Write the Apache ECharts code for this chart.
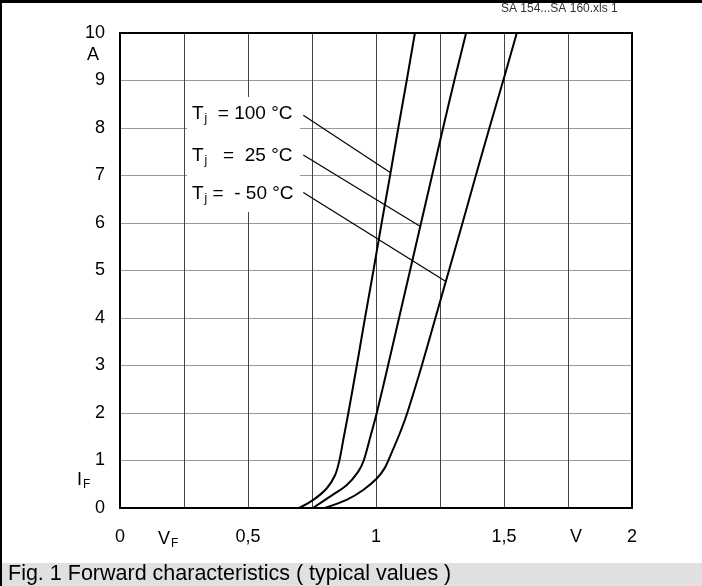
<!DOCTYPE html>
<html>
<head>
<meta charset="utf-8">
<script src="https://cdn.jsdelivr.net/npm/echarts@6/dist/echarts.min.js"></script>
<style>
html,body{margin:0;padding:0;background:#fff;}
#chart{width:702px;height:586px;}
</style>
</head>
<body>
<div id="chart"></div>
<script>
// Forward voltage V_F (V) vs forward current I_F (A)
const curve100 = [[0.70,0],[0.755,0.17],[0.807,0.41],[0.84,0.69],[0.857,1.0],[0.872,1.43],[0.892,2.0],[0.925,3],[0.957,4],[0.99,5],[1.022,6],[1.055,7],[1.087,8],[1.12,9],[1.152,10]];
const curve25 = [[0.753,0],[0.82,0.24],[0.885,0.48],[0.93,0.76],[0.952,1.0],[0.978,1.5],[1.003,2],[1.047,3],[1.09,4],[1.133,5],[1.176,6],[1.219,7],[1.262,8],[1.306,9],[1.352,10]];
const curveM50 = [[0.80,0],[0.885,0.17],[0.95,0.38],[1.003,0.62],[1.035,0.85],[1.06,1.15],[1.095,1.6],[1.122,2],[1.179,3],[1.232,4],[1.285,5],[1.338,6],[1.39,7],[1.443,8],[1.497,9],[1.55,10]];
// leader lines from labels to curves (data coords)
const leader100 = [[0.716,8.27],[1.057,7.06]];
const leader25 = [[0.716,7.43],[1.175,5.92]];
const leaderM50 = [[0.716,6.64],[1.27,4.78]];
const xTickLabels = {'0':'0','0.5':'0,5','1':'1','1.5':'1,5','2':'2'};
const yTicks = [0,1,2,3,4,5,6,7,8,9,10];

const W = 702, H = 586;
const font = '"Liberation Sans", Arial, sans-serif';

const chart = echarts.init(document.getElementById('chart'));
const curveStyle = {type:'line', showSymbol:false, smooth:0.3, lineStyle:{color:'#000', width:2}, z:5, silent:true};
const leaderStyle = {type:'line', showSymbol:false, lineStyle:{color:'#000', width:1.2}, z:4, silent:true};
const rich = {m:{fontSize:19,fontFamily:font,fill:'#000'}, s:{fontSize:12,fontFamily:font,fill:'#000', padding:[10,0,0,1]}};

chart.setOption({
  animation:false,
  backgroundColor:'#fff',
  textStyle:{fontFamily:font},
  grid:{left:120, right:70, top:33, bottom:78, show:true, borderColor:'#000', borderWidth:2, z:6},
  xAxis:{type:'value', min:0, max:2, interval:0.25,
    axisLine:{show:false}, axisTick:{show:false},
    splitLine:{show:true, lineStyle:{color:'#444', width:1}},
    axisLabel:{fontSize:18, color:'#000', margin:20, fontFamily:font,
      formatter:v=>{const k=String(Math.round(v*100)/100); return xTickLabels[k]!==undefined?xTickLabels[k]:'';}}
  },
  yAxis:{type:'value', min:0, max:10, interval:1,
    axisLine:{show:false}, axisTick:{show:false},
    splitLine:{show:true, lineStyle:{color:'#999', width:1}},
    axisLabel:{fontSize:18, color:'#000', margin:15, fontFamily:font, formatter:v=>yTicks.includes(v)?String(v):''}
  },
  series:[
    Object.assign({name:'Tj=100', data:curve100}, curveStyle),
    Object.assign({name:'Tj=25', data:curve25}, curveStyle),
    Object.assign({name:'Tj=-50', data:curveM50}, curveStyle),
    Object.assign({data:leader100}, leaderStyle),
    Object.assign({data:leader25}, leaderStyle),
    Object.assign({data:leaderM50}, leaderStyle)
  ],
  graphic:[
    {type:'rect', shape:{x:187,y:97,width:113,height:115}, style:{fill:'#fff'}, z:3, silent:true},
    {type:'rect', shape:{x:0,y:563,width:W,height:23}, style:{fill:'#e0e0e0'}, z:1},
    {type:'rect', shape:{x:0,y:0,width:W,height:3}, style:{fill:'#000'}, z:10},
    {type:'rect', shape:{x:0,y:0,width:2,height:H}, style:{fill:'#000'}, z:10},
    {type:'text', left:8, top:563, style:{text:'Fig. 1 Forward characteristics ( typical values )', font:'21.5px '+font, fill:'#000'}, z:10},
    {type:'text', x:501, y:3, style:{text:'SA 154...SA 160.xls 1', font:'12px '+font, fill:'#333'}, z:10},
    {type:'text', x:87, y:46, style:{text:'A', font:'18px '+font, fill:'#000'}, z:10},
    {type:'text', x:77, y:469, style:{text:'{m|I}{s|F}', rich:{m:{fontSize:18,fontFamily:font,fill:'#000'}, s:rich.s}}, z:10},
    {type:'text', x:158, y:528, style:{text:'{m|V}{s|F}', rich:{m:{fontSize:18,fontFamily:font,fill:'#000'}, s:rich.s}}, z:10},
    {type:'text', x:570, y:528, style:{text:'V', font:'18px '+font, fill:'#000'}, z:10},
    {type:'text', x:192, y:103, style:{text:'{m|T}{s|j}{m|  = 100 °C}', rich:rich}, z:10},
    {type:'text', x:192, y:145, style:{text:'{m|T}{s|j}{m|   =  25 °C}', rich:rich}, z:10},
    {type:'text', x:192, y:183, style:{text:'{m|T}{s|j}{m| =  - 50 °C}', rich:rich}, z:10}
  ]
});
</script>
</body>
</html>
